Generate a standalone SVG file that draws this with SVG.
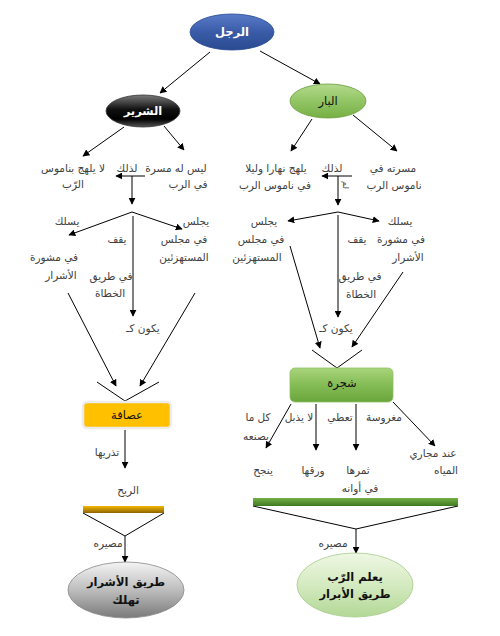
<svg xmlns="http://www.w3.org/2000/svg" width="500" height="636" viewBox="0 0 500 636">
<defs>
<marker id="ah" viewBox="0 0 10 10" refX="9" refY="5" markerWidth="7" markerHeight="7" orient="auto" markerUnits="userSpaceOnUse"><path d="M0,0 L10,5 L0,10 z" fill="#000"/></marker>
<linearGradient id="gBlue" x1="0" y1="0" x2="0" y2="1"><stop offset="0" stop-color="#5a7cc8"/><stop offset="0.5" stop-color="#3a5ca8"/><stop offset="1" stop-color="#2a4a90"/></linearGradient>
<linearGradient id="gBlack" x1="0" y1="0" x2="0" y2="1"><stop offset="0" stop-color="#7a7a7a"/><stop offset="0.45" stop-color="#111"/><stop offset="0.75" stop-color="#000"/><stop offset="1" stop-color="#555"/></linearGradient>
<linearGradient id="gGreen" x1="0" y1="0" x2="0" y2="1"><stop offset="0" stop-color="#b3da8c"/><stop offset="0.5" stop-color="#92c565"/><stop offset="1" stop-color="#76b043"/></linearGradient>
<linearGradient id="gBox" x1="0" y1="0" x2="0" y2="1"><stop offset="0" stop-color="#a9d47c"/><stop offset="0.5" stop-color="#84bc55"/><stop offset="1" stop-color="#6aa63b"/></linearGradient>
<linearGradient id="gGrey" x1="0" y1="0" x2="0" y2="1"><stop offset="0" stop-color="#f4f4f4"/><stop offset="0.5" stop-color="#bdbdbd"/><stop offset="1" stop-color="#7a7a7a"/></linearGradient>
<linearGradient id="gLight" x1="0" y1="0" x2="0" y2="1"><stop offset="0" stop-color="#eef7e4"/><stop offset="0.5" stop-color="#d4eac0"/><stop offset="1" stop-color="#b2d896"/></linearGradient>
<linearGradient id="gOrBar" x1="0" y1="0" x2="0" y2="1"><stop offset="0" stop-color="#f5b800"/><stop offset="1" stop-color="#8c6400"/></linearGradient>
<linearGradient id="gGrBar" x1="0" y1="0" x2="0" y2="1"><stop offset="0" stop-color="#74b046"/><stop offset="1" stop-color="#3e7a22"/></linearGradient>
</defs>
<style>
text{font-family:"DejaVu Sans",sans-serif;font-size:10.5px;fill:#404040;text-anchor:middle}
.w{fill:#fff;font-weight:bold;font-size:11.5px}
.b{fill:#111;font-size:11.5px}
.bb{fill:#111;font-weight:bold;font-size:11.5px}
.c line,.c polyline{stroke:#000;stroke-width:1;fill:none}
.a{marker-end:url(#ah)}
</style>

<g class="c" id="connectors">
<line class="a" x1="210" y1="52" x2="160" y2="93"/>
<line class="a" x1="260" y1="51" x2="320" y2="84"/>
<line class="a" x1="124" y1="127" x2="83" y2="156"/>
<line class="a" x1="164" y1="126" x2="184" y2="150"/>
<line class="a" x1="312" y1="119" x2="291" y2="151"/>
<line class="a" x1="353" y1="115" x2="397" y2="151"/>
<line class="a" x1="145" y1="176" x2="116" y2="176"/>
<line class="a" x1="132" y1="176" x2="132" y2="204"/>
<line class="a" x1="132" y1="212" x2="69" y2="235"/>
<line class="a" x1="132" y1="212" x2="182" y2="229"/>
<line class="a" x1="133" y1="216" x2="133" y2="316"/>
<line class="a" x1="68" y1="293" x2="116" y2="386"/>
<line class="a" x1="195" y1="293" x2="140" y2="386"/>
<polyline points="97,382 125,401 159,382"/>
<line class="a" x1="125" y1="430" x2="125" y2="468"/>
<polyline points="83,513 125,536 164,513"/>
<line class="a" x1="125" y1="536" x2="125" y2="562"/>
<line class="a" x1="352" y1="176" x2="322" y2="176"/>
<line class="a" x1="338" y1="176" x2="338" y2="205"/>
<line class="a" x1="338" y1="212" x2="288" y2="221"/>
<line class="a" x1="338" y1="212" x2="379" y2="221"/>
<line class="a" x1="338" y1="215" x2="338" y2="317"/>
<line class="a" x1="290" y1="246" x2="320" y2="348"/>
<line class="a" x1="403" y1="272" x2="352" y2="347"/>
<polyline points="312,350 337,368 362,350"/>
<line class="a" x1="291" y1="404" x2="266" y2="448"/>
<line class="a" x1="316" y1="404" x2="316" y2="450"/>
<line class="a" x1="356" y1="404" x2="356" y2="450"/>
<line class="a" x1="393" y1="402" x2="435" y2="446"/>
<polyline points="253,506 356,529 458,506"/>
<line class="a" x1="356" y1="529" x2="356" y2="553"/>
</g>

<g id="root"><ellipse cx="232" cy="32" rx="42" ry="18" fill="url(#gBlue)" stroke="#2a4a90" stroke-width="0.8"/><text class="w" x="232" y="36">الرجل</text></g>
<g id="wicked"><ellipse cx="143" cy="111" rx="37" ry="16" fill="url(#gBlack)" stroke="#333" stroke-width="0.8"/><text class="w" x="143" y="115">الشرير</text></g>
<g id="righteous"><ellipse cx="328" cy="101" rx="38" ry="17" fill="url(#gGreen)" stroke="#6a9e3c" stroke-width="0.8"/><text class="b" x="328" y="105">البار</text></g>

<g id="left-texts">
<text x="73" y="172">لا يلهج بناموس</text>
<text x="73" y="188">الرّب</text>
<text x="127" y="172">لذلك</text>
<text x="176" y="172">ليس له مسرة</text>
<text x="188" y="188">في الرب</text>
<text x="67" y="225">يسلك</text>
<text x="117" y="243">يقف</text>
<text x="196" y="225">يجلس</text>
<text x="184" y="243">في  مجلس</text>
<text x="184" y="261">المستهزئين</text>
<text x="54" y="261">في مشورة</text>
<text x="61" y="279">الأشرار</text>
<text x="111" y="280">في طريق</text>
<text x="110" y="297">الخطاة</text>
<text x="143" y="332">يكون كـ</text>
<text x="107" y="456">تذريها</text>
<text x="128" y="494">الريح</text>
<text x="108" y="547">مصيره</text>
</g>

<g id="right-texts">
<text x="393" y="172">مسرته في</text>
<text x="394" y="189">ناموس الرب</text>
<text x="332" y="172">لذلك</text>
<text x="276" y="172">يلهج نهارا وليلا</text>
<text x="275" y="189">في ناموس الرب</text>
<text x="343" y="185" transform="rotate(90 343 185)" style="font-size:8px">لم</text>
<text x="264" y="225">يجلس</text>
<text x="261" y="243">في مجلس</text>
<text x="257" y="261">المستهزئين</text>
<text x="400" y="225">يسلك</text>
<text x="401" y="243">في مشورة</text>
<text x="408" y="261">الأشرار</text>
<text x="357" y="243">يقف</text>
<text x="360" y="280">في طريق</text>
<text x="361" y="298">الخطاة</text>
<text x="336" y="332">يكون كـ</text>
<text x="258" y="421">كل ما</text>
<text x="256" y="440">يصنعه</text>
<text x="299" y="421">لا يذبل</text>
<text x="340" y="421">تعطي</text>
<text x="384" y="421">مغروسة</text>
<text x="433" y="457">عند مجاري</text>
<text x="446" y="474">المياه</text>
<text x="263" y="474">ينجح</text>
<text x="313" y="474">ورقها</text>
<text x="358" y="474">ثمرها</text>
<text x="360" y="492">في أوانه</text>
<text x="333" y="547">مصيره</text>
</g>

<g id="chaff"><rect x="83" y="402" width="88" height="26" rx="4" fill="#ffc000" stroke="#ececec" stroke-width="2.5"/><text class="b" x="127" y="419">عصافة</text></g>
<g id="tree"><rect x="290" y="368" width="103" height="34" rx="5" fill="url(#gBox)" stroke="#8ec060" stroke-width="0.8"/><text class="b" x="342" y="387">شجرة</text></g>
<g id="orange-bar"><rect x="83" y="506" width="81" height="7" fill="url(#gOrBar)"/></g>
<g id="green-bar"><rect x="253" y="498" width="205" height="8" fill="url(#gGrBar)"/></g>
<g id="perish"><ellipse cx="126" cy="590" rx="58" ry="28" fill="url(#gGrey)" stroke="#888" stroke-width="0.8"/><text class="bb" x="126" y="586">طريق الأشرار</text><text class="bb" x="126" y="604">تهلك</text></g>
<g id="knows"><ellipse cx="355" cy="585" rx="58" ry="32" fill="url(#gLight)" stroke="#a8cc8c" stroke-width="0.8"/><text class="bb" x="355" y="581">يعلم الرّب</text><text class="bb" x="355" y="598">طريق الأبرار</text></g>
</svg>
